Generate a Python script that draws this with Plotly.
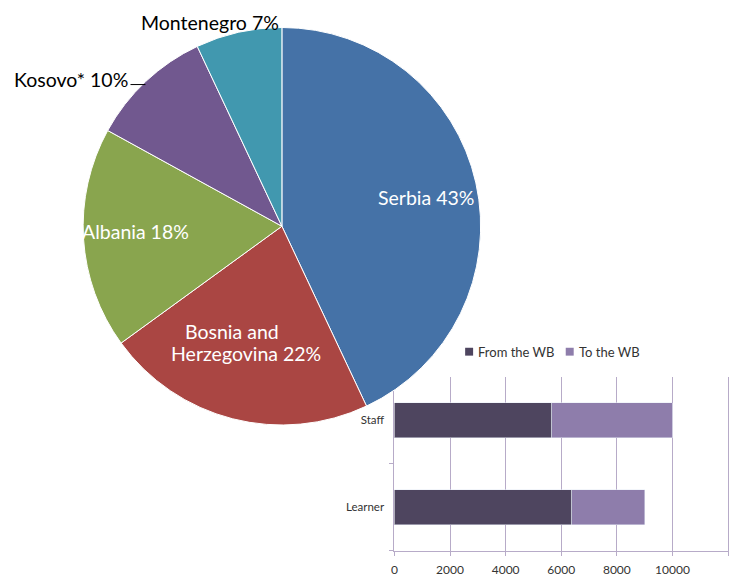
import plotly.graph_objects as go

# pie: share by country
countries = ["Serbia", "Bosnia and Herzegovina", "Albania", "Kosovo*", "Montenegro"]
shares = [43, 22, 18, 10, 7]
pie_colors = ["#4572A7", "#AA4643", "#89A54E", "#71588F", "#4198AF"]

# bar: mobility flows
groups = ["Learner", "Staff"]
series_names = ["From the WB", "To the WB"]
from_wb = [6380, 5660]
to_wb = [2620, 4340]
bar_colors = ["#4E455F", "#8E7DAB"]
x_ticks = [0, 2000, 4000, 6000, 8000, 10000, 12000]

FONT = "Lato, Open Sans, sans-serif"
# page body has an 8px margin, so the figure is drawn 8px in from the corner
OFF = 8
W, H = 744 - OFF, 577 - OFF
# measured vertical placement of the drawing in the browser window
TOP, H_SHOWN = 7.2, 561.0

def px_x(x):
    return (x - OFF) / W

def px_y(y):
    return min(1.0, max(0.0, 1 - (y - TOP) / H_SHOWN))

fig = go.Figure()

fig.add_trace(go.Pie(
    labels=countries,
    values=shares,
    textinfo="none",
    marker=dict(colors=pie_colors, line=dict(color="white", width=1)),
    sort=False,
    direction="clockwise",
    rotation=0,
    showlegend=False,
    domain=dict(x=[px_x(76), px_x(484)], y=[px_y(431), px_y(27)]),
    hoverinfo="label+percent",
))

for name, vals, col in zip(series_names, [from_wb, to_wb], bar_colors):
    fig.add_trace(go.Bar(
        y=groups, x=vals, name=name, orientation="h",
        marker=dict(color=col), xaxis="x", yaxis="y", showlegend=False,
    ))

axis_col = "#B7ABC8"
txt_col = "#333333"


def label(text, x, y, color="white", size=19.5, anchor="center"):
    return dict(text=text, x=px_x(x), y=px_y(y), xref="paper", yref="paper",
                xanchor=anchor, yanchor="middle", showarrow=False,
                font=dict(size=size, color=color, family=FONT))


# slice labels (text taken from the pie data)
pie_text = [f"{c} {s}%" for c, s in zip(countries, shares)]
annotations = [
    label(pie_text[0], 425, 200),
    label("Bosnia and", 230, 336),
    label(f"Herzegovina {shares[1]}%", 244, 358),
    label(pie_text[2], 133, 234),
    label(pie_text[3], 127, 80, color="black", anchor="right"),
    label(pie_text[4], 208, 22, color="black"),
]

# legend for the bar chart
shapes = [
    dict(type="line", xref="paper", yref="paper",
         x0=px_x(128), x1=px_x(143), y0=px_y(85), y1=px_y(85),
         line=dict(color="black", width=1)),
]
for name, col, sx in zip(series_names, bar_colors, [464, 565]):
    shapes.append(dict(type="rect", xref="paper", yref="paper",
                       x0=px_x(sx), x1=px_x(sx + 8), y0=px_y(360.5), y1=px_y(352.5),
                       fillcolor=col, line=dict(width=0)))
    annotations.append(label(name, sx + 11, 356.5, color=txt_col, size=13, anchor="left"))

fig.update_layout(
    width=W, height=H,
    margin=dict(l=0, r=0, t=0, b=0),
    paper_bgcolor="white", plot_bgcolor="rgba(0,0,0,0)",
    font=dict(family=FONT, color=txt_col),
    barmode="stack", bargap=0.6,
    xaxis=dict(
        domain=[px_x(393), px_x(729.4)], range=[0, 12050],
        tickmode="array", tickvals=x_ticks, ticktext=[str(v) for v in x_ticks],
        showgrid=True, gridcolor=axis_col, gridwidth=1,
        showline=True, linecolor=axis_col, zeroline=False,
        ticks="outside", ticklen=4, tickcolor=axis_col,
        tickfont=dict(size=12, color=txt_col), ticklabelstandoff=4,
        anchor="y",
    ),
    yaxis=dict(
        domain=[px_y(559), px_y(382)], type="category",
        showline=True, linecolor=axis_col, showgrid=False,
        ticks="outside", tickson="boundaries", ticklen=4, tickcolor=axis_col,
        tickfont=dict(size=11.5, color=txt_col), ticklabelstandoff=7, anchor="x",
    ),
    annotations=annotations,
    shapes=shapes,
)

fig.write_html("out.html")
